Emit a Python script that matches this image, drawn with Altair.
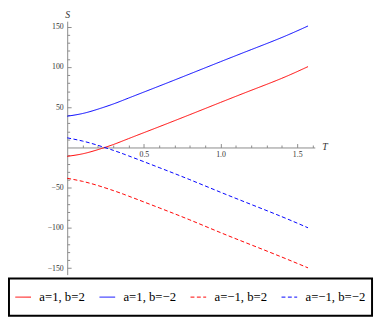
import altair as alt
import pandas as pd

# ---- data ----
T = [0.0, 0.1, 0.2, 0.3, 0.4, 0.6, 0.8, 1.0, 1.2, 1.4, 1.5708]
s_a1_b2 = [-11.0, -7.9, -2.7, 3.6, 11.0, 25.8, 40.8, 56.0, 71.0, 86.0, 100.5]
s_a1_bm2 = [38.9, 42.2, 47.6, 54.0, 61.4, 76.3, 91.4, 106.6, 121.6, 136.7, 151.0]
s_am1_b2 = [-38.3, -42.1, -47.3, -53.5, -60.4, -75.0, -90.0, -105.8, -121.0, -136.2, -149.6]
s_am1_bm2 = [12.0, 8.0, 2.7, -3.5, -10.4, -25.0, -40.0, -55.6, -70.8, -86.0, -99.8]

series_names = ["a=1, b=2", "a=1, b=\u22122", "a=\u22121, b=2", "a=\u22121, b=\u22122"]
series_values = [s_a1_b2, s_a1_bm2, s_am1_b2, s_am1_bm2]
series_colors = ["#ff0000", "#0000ff", "#ff0000", "#0000ff"]
series_dashes = [[1, 0], [1, 0], [4, 2.5], [4, 2.5]]

x_domain = [0, 1.615]
y_domain = [-158, 157]
x_major = [0.5, 1.0, 1.5]
x_ticks = [0.1, 0.2, 0.3, 0.4, 0.5, 0.6, 0.7, 0.8, 0.9, 1.0,
           1.1, 1.2, 1.3, 1.4, 1.5, 1.6]
y_major = [-150, -100, -50, 50, 100, 150]
y_ticks = [-150, -140, -130, -120, -110, -100, -90, -80, -70, -60, -50, -40,
           -30, -20, -10, 10, 20, 30, 40, 50, 60, 70, 80, 90, 100, 110, 120,
           130, 140, 150]

rows = []
for name, vals in zip(series_names, series_values):
    for t, s in zip(T, vals):
        rows.append({"T": t, "S": s, "series": name})
df = pd.DataFrame(rows)

W, H = 253, 259
zero_y = H * (y_domain[1] - 0) / (y_domain[1] - y_domain[0])

FONT = "Liberation Serif"
AX = "#8a8a8a"
LAB = "#333333"

xs = alt.Scale(domain=x_domain, nice=False, zero=False)
ys = alt.Scale(domain=y_domain, nice=False, zero=False)

leg = alt.Legend(
    orient="none", legendX=-59.5, legendY=263, direction="horizontal",
    title=None, strokeColor="black", padding=6, symbolType="stroke",
    symbolSize=256, symbolStrokeWidth=1, labelFont=FONT, labelFontSize=13,
    labelColor="black", labelOffset=8, columnPadding=14, clipHeight=26,
)

lines = alt.Chart(df).mark_line(strokeWidth=1, interpolate="natural").encode(
    x=alt.X("T:Q", scale=xs, axis=alt.Axis(
        orient="bottom", offset=-(H - zero_y), values=x_major, format=".1f",
        ticks=False, domain=True, domainColor=AX, domainWidth=1,
        labelFont=FONT, labelFontSize=8, labelColor=LAB, labelPadding=3,
        grid=False, title="T", titleX=263, titleY=-1, titleFont=FONT,
        titleFontSize=10, titleFontStyle="italic", titleFontWeight="normal",
        titleAlign="center", titleBaseline="middle", titleAngle=0,
        titleColor=LAB)),
    y=alt.Y("S:Q", scale=ys, axis=alt.Axis(
        orient="left", values=y_major, format="d", ticks=False, domain=True,
        domainColor=AX, domainWidth=1, labelFont=FONT, labelFontSize=8,
        labelColor=LAB, labelPadding=4, grid=False, title="S", titleX=0,
        titleY=-2, titleAngle=0, titleAlign="center", titleBaseline="bottom",
        titleFont=FONT, titleFontSize=10, titleFontStyle="italic",
        titleFontWeight="normal", titleColor=LAB)),
    color=alt.Color("series:N", scale=alt.Scale(domain=series_names, range=series_colors), legend=leg),
    strokeDash=alt.StrokeDash("series:N", scale=alt.Scale(domain=series_names, range=series_dashes), legend=leg),
)

tick_layer = alt.Chart(df).mark_point(opacity=0).encode(
    x=alt.X("T:Q", scale=xs, axis=alt.Axis(
        orient="top", offset=-zero_y, values=x_ticks, labels=False,
        domain=False, grid=False, tickColor=AX, tickWidth=1,
        tickSize={"condition": {"test": "abs(datum.value*2 - round(datum.value*2)) < 0.001", "value": 4}, "value": 2.5},
        title=None)),
    y=alt.Y("S:Q", scale=ys, axis=alt.Axis(
        orient="right", offset=-W, values=y_ticks, labels=False,
        domain=False, grid=False, tickColor=AX, tickWidth=1,
        tickSize={"condition": {"test": "datum.value % 50 == 0", "value": 4}, "value": 2.5},
        title=None)),
)

chart = alt.layer(lines, tick_layer).resolve_axis(
    x="independent", y="independent"
).properties(
    width=W, height=H,
    autosize=alt.AutoSizeParams(type="none"),
    padding={"left": 60.5, "top": 10, "right": 60.5, "bottom": 46},
    background="white",
).configure_view(stroke=None).configure_legend(strokeWidth=2)

chart.save("out.html", embed_options={"renderer": "svg", "actions": False})
